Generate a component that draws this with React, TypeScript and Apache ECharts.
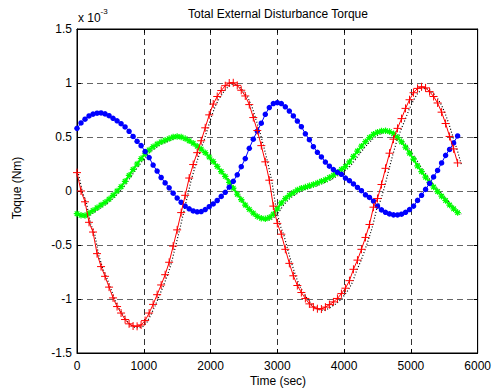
import React, { useEffect, useRef } from "react";
import * as echarts from "echarts";

const timeSec = [
  0, 60, 120, 180, 240, 300, 360, 420, 480, 540,
  600, 660, 720, 780, 840, 900, 960, 1020, 1080, 1140,
  1200, 1260, 1320, 1380, 1440, 1500, 1560, 1620, 1680, 1740,
  1800, 1860, 1920, 1980, 2040, 2100, 2160, 2220, 2280, 2340,
  2400, 2460, 2520, 2580, 2640, 2700, 2760, 2820, 2880, 2940,
  3000, 3060, 3120, 3180, 3240, 3300, 3360, 3420, 3480, 3540,
  3600, 3660, 3720, 3780, 3840, 3900, 3960, 4020, 4080, 4140,
  4200, 4260, 4320, 4380, 4440, 4500, 4560, 4620, 4680, 4740,
  4800, 4860, 4920, 4980, 5040, 5100, 5160, 5220, 5280, 5340,
  5400, 5460, 5520, 5580, 5640, 5700,
];

// values in units of 1e-3 Nm
const blueTorque = [
  0.58, 0.63, 0.665, 0.695, 0.712, 0.72, 0.723, 0.714, 0.697, 0.673,
  0.65, 0.623, 0.593, 0.553, 0.505, 0.46, 0.42, 0.365, 0.31, 0.24,
  0.185, 0.125, 0.075, 0.03, -0.02, -0.065, -0.105, -0.14, -0.165, -0.185,
  -0.193, -0.19, -0.172, -0.145, -0.12, -0.088, -0.05, -0.012, 0.035, 0.09,
  0.15, 0.225, 0.3, 0.395, 0.48, 0.555, 0.628, 0.71, 0.773, 0.81,
  0.818, 0.81, 0.78, 0.74, 0.695, 0.648, 0.595, 0.53, 0.475, 0.41,
  0.358, 0.315, 0.268, 0.23, 0.198, 0.173, 0.155, 0.12, 0.095, 0.065,
  0.033, 0.003, -0.035, -0.06, -0.093, -0.14, -0.175, -0.197, -0.212, -0.221,
  -0.222, -0.215, -0.197, -0.172, -0.14, -0.087, -0.04, 0.015, 0.07, 0.13,
  0.19, 0.26, 0.33, 0.385, 0.445, 0.51,
];

const redTorque = [
  0.17, 0.0, -0.1, -0.29, -0.38, -0.58, -0.7, -0.79, -0.89, -0.99,
  -1.07, -1.13, -1.19, -1.23, -1.25, -1.253, -1.24, -1.2, -1.13, -1.05,
  -0.96, -0.87, -0.775, -0.66, -0.51, -0.36, -0.2, -0.04, 0.12, 0.245,
  0.355, 0.465, 0.585, 0.705, 0.805, 0.875, 0.93, 0.975, 1.0, 1.002,
  0.978, 0.933, 0.88, 0.8, 0.68, 0.56, 0.42, 0.27, 0.1, -0.14,
  -0.3, -0.4, -0.54, -0.67, -0.785, -0.875, -0.94, -0.995, -1.045, -1.075,
  -1.09, -1.093, -1.075, -1.052, -1.027, -0.995, -0.95, -0.9, -0.83, -0.725,
  -0.64, -0.54, -0.43, -0.31, -0.15, -0.07, 0.06, 0.21, 0.35, 0.48,
  0.58, 0.67, 0.765, 0.845, 0.91, 0.95, 0.965, 0.955, 0.92, 0.875,
  0.815, 0.73, 0.625, 0.505, 0.39, 0.26,
];

const greenTorque = [
  -0.21, -0.225, -0.227, -0.205, -0.18, -0.155, -0.13, -0.105, -0.075, -0.04,
  0.0, 0.04, 0.09, 0.145, 0.2, 0.25, 0.3, 0.345, 0.38, 0.41,
  0.435, 0.455, 0.47, 0.485, 0.5, 0.505, 0.5, 0.485, 0.465, 0.442,
  0.415, 0.388, 0.355, 0.315, 0.273, 0.228, 0.18, 0.135, 0.08, 0.027,
  -0.03, -0.08, -0.13, -0.17, -0.205, -0.235, -0.252, -0.258, -0.245, -0.215,
  -0.165, -0.11, -0.07, -0.04, -0.015, 0.01, 0.025, 0.036, 0.048, 0.06,
  0.075, 0.09, 0.104, 0.125, 0.147, 0.172, 0.2, 0.227, 0.27, 0.32,
  0.37, 0.415, 0.457, 0.495, 0.525, 0.545, 0.555, 0.559, 0.55, 0.53,
  0.495, 0.455, 0.405, 0.35, 0.295, 0.232, 0.18, 0.128, 0.08, 0.037,
  -0.005, -0.048, -0.088, -0.13, -0.165, -0.2,
];

const FONT = "'Liberation Sans', Arial, Helvetica, sans-serif";
const PLUS = "path://M5 0V10M0 5H10";
const STAR = "path://M5 0V10M0 5H10M1.5 1.5L8.5 8.5M8.5 1.5L1.5 8.5";

export default function App() {
  const ref = useRef<HTMLDivElement>(null);
  useEffect(() => {
    const chart = echarts.init(ref.current!, null, { renderer: "svg" });
    const pairs = (vals: number[]) => timeSec.map((t, i) => [t, vals[i]]);
    const gridLine = (color: string) => ({
      show: true,
      lineStyle: { color, type: [6, 4], width: 1 },
    });
    const baseX = {
      type: "value",
      min: 0,
      max: 6000,
      interval: 1000,
      axisLine: { show: true, onZero: false, lineStyle: { color: "#000", width: 1 } },
      axisTick: { show: true, inside: true, length: 4, lineStyle: { color: "#000" } },
    };
    const baseY = {
      type: "value",
      min: -1.5,
      max: 1.5,
      interval: 0.5,
      axisLine: { show: true, onZero: false, lineStyle: { color: "#000", width: 1 } },
      axisTick: { show: true, inside: true, length: 4, lineStyle: { color: "#000" } },
    };
    const dotted = (vals: number[]) => ({
      type: "line",
      data: pairs(vals),
      xAxisIndex: 2,
      yAxisIndex: 2,
      symbol: "none",
      silent: true,
      lineStyle: { color: "#000", width: 1.2, type: [1, 2] },
      z: 1,
    });
    chart.setOption({
      animation: false,
      backgroundColor: "#fff",
      grid: [
        {
          left: 77,
          top: 29,
          width: 403,
          height: 324,
          show: true,
          borderColor: "#000",
          borderWidth: 1,
          backgroundColor: "#fff",
        },
        { left: 78.5, top: 30.5, width: 403, height: 324, show: false },
      ],
      xAxis: [
        {
          ...baseX,
          gridIndex: 0,
          position: "bottom",
          axisLabel: {
            color: "#000",
            fontSize: 12,
            fontFamily: FONT,
            margin: 7,
            formatter: (v: number) => String(v),
          },
          splitLine: gridLine("#333"),
        },
        {
          ...baseX,
          gridIndex: 0,
          position: "top",
          axisLabel: { show: false },
          splitLine: { show: false },
        },
        { type: "value", gridIndex: 1, min: 0, max: 6000, show: false },
      ],
      yAxis: [
        {
          ...baseY,
          gridIndex: 0,
          position: "left",
          axisLabel: { color: "#000", fontSize: 12, fontFamily: FONT, margin: 5 },
          splitLine: gridLine("#666"),
        },
        {
          ...baseY,
          gridIndex: 0,
          position: "right",
          axisLabel: { show: false },
          splitLine: { show: false },
        },
        { type: "value", gridIndex: 1, min: -1.5, max: 1.5, show: false },
      ],
      graphic: [
        {
          type: "text",
          x: 278,
          y: 14,
          silent: true,
          style: {
            text: "Total External Disturbance Torque",
            align: "center",
            verticalAlign: "middle",
            fontSize: 12,
            fontFamily: FONT,
            fill: "#000",
          },
        },
        {
          type: "text",
          x: 78,
          y: 18,
          silent: true,
          style: {
            text: "x 10",
            align: "left",
            verticalAlign: "middle",
            fontSize: 12,
            fontFamily: FONT,
            fill: "#000",
          },
        },
        {
          type: "text",
          x: 100.5,
          y: 11,
          silent: true,
          style: {
            text: "-3",
            align: "left",
            verticalAlign: "middle",
            fontSize: 8,
            fontFamily: FONT,
            fill: "#000",
          },
        },
        {
          type: "text",
          x: 17,
          y: 188,
          rotation: Math.PI / 2,
          silent: true,
          style: {
            text: "Toque (Nm)",
            align: "center",
            verticalAlign: "middle",
            fontSize: 12,
            fontFamily: FONT,
            fill: "#000",
          },
        },
        {
          type: "text",
          x: 278,
          y: 381,
          silent: true,
          style: {
            text: "Time (sec)",
            align: "center",
            verticalAlign: "middle",
            fontSize: 12,
            fontFamily: FONT,
            fill: "#000",
          },
        },
      ],
      series: [
        dotted(greenTorque),
        dotted(redTorque),
        {
          type: "line",
          name: "green",
          data: pairs(greenTorque),
          xAxisIndex: 0,
          yAxisIndex: 0,
          symbol: STAR,
          symbolSize: 6.5,
          showSymbol: true,
          showAllSymbol: true,
          silent: true,
          lineStyle: { color: "#00ff00", width: 2 },
          itemStyle: { color: "#00ff00", borderColor: "#00ff00", borderWidth: 1.2 },
          z: 2,
        },
        {
          type: "line",
          name: "blue",
          data: pairs(blueTorque),
          xAxisIndex: 0,
          yAxisIndex: 0,
          symbol: "circle",
          symbolSize: 5.5,
          showSymbol: true,
          showAllSymbol: true,
          silent: true,
          lineStyle: { color: "#0000ff", width: 1 },
          itemStyle: { color: "#0000ff", borderWidth: 0 },
          z: 3,
        },
        {
          type: "line",
          name: "red",
          data: pairs(redTorque),
          xAxisIndex: 0,
          yAxisIndex: 0,
          symbol: PLUS,
          symbolSize: 8,
          showSymbol: true,
          showAllSymbol: true,
          silent: true,
          lineStyle: { color: "#ff0000", width: 1 },
          itemStyle: { color: "#ff0000", borderColor: "#ff0000", borderWidth: 1 },
          z: 4,
        },
      ],
    });
    return () => chart.dispose();
  }, []);
  return (
    <div
      ref={ref}
      style={{ position: "fixed", left: 0, top: 0, width: 494, height: 391, background: "#fff" }}
    />
  );
}
